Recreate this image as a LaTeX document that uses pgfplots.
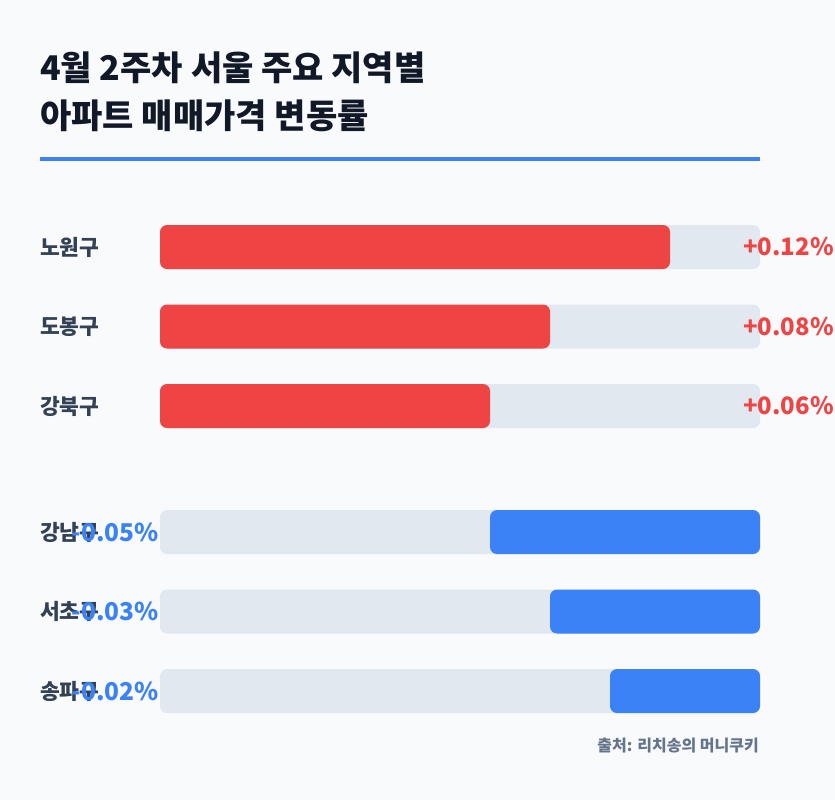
\documentclass[border=0pt]{standalone}
\usepackage{pgfplots}
\pgfplotsset{compat=1.18}
\usepackage{fontspec}
\setmainfont{Noto Sans CJK KR}
\definecolor{bg}{HTML}{F8FAFC}
\definecolor{ink}{HTML}{111827}
\definecolor{lab}{HTML}{334155}
\definecolor{track}{HTML}{E2E8F0}
\definecolor{myred}{HTML}{EF4444}
\definecolor{myblue}{HTML}{3B82F6}
\definecolor{src}{HTML}{64748B}
\begin{document}
\begin{tikzpicture}[x=1pt,y=-1pt]
\path[use as bounding box] (0,0) rectangle (835,800);
\fill[bg] (0,0) rectangle (835,800);
\pgfplotsset{barsax/.style={scale only axis, width=835pt, height=800pt,
  xmin=-26.6667, xmax=112.5, ymin=0, ymax=800, y dir=reverse,
  hide axis, clip=false, at={(0,0)}, anchor=north west}}
% bar lengths in percent of the grey track (as drawn)
\begin{axis}[barsax, xbar, bar width=44]
\addplot[draw=none, fill=track, bar shift=0pt, rounded corners=7pt]
  coordinates {(100,247) (100,326.5) (100,406) (100,532) (100,611.5) (100,691)};
\addplot[draw=none, fill=myred, bar shift=0pt, rounded corners=7pt]
  coordinates {(85,247) (65,326.5) (55,406)};
\end{axis}
\begin{axis}[barsax, xbar stacked, bar width=44]
\addplot[draw=none, fill=none, bar shift=0pt]
  coordinates {(55,532) (65,611.5) (75,691)};
\addplot[draw=none, fill=myblue, bar shift=0pt, rounded corners=7pt]
  coordinates {(45,532) (35,611.5) (25,691)};
\end{axis}
% title
\node[anchor=west, inner sep=0, text=ink, font=\bfseries\fontsize{34}{40}\selectfont] at (40,67.5) {4월 2주차 서울 주요 지역별};
\node[anchor=west, inner sep=0, text=ink, font=\bfseries\fontsize{34}{40}\selectfont] at (40,116) {아파트 매매가격 변동률};
\draw[myblue, line width=4pt] (40,159) -- (760,159);
% category labels
\foreach \y/\t in {247/노원구, 326.5/도봉구, 406/강북구, 532/강남구, 611.5/서초구, 691/송파구}
  \node[anchor=west, inner sep=0, text=lab, font=\bfseries\fontsize{21.5}{25}\selectfont] at (40,\y) {\t};
% value labels
\foreach \y/\t in {247/+0.12\%, 326.5/+0.08\%, 406/+0.06\%}
  \node[anchor=west, inner sep=0, text=myred, font=\bfseries\fontsize{24}{28}\selectfont] at (743,\y) {\t};
\foreach \y/\t in {532/-0.05\%, 611.5/-0.03\%, 691/-0.02\%}
  \node[anchor=east, inner sep=0, text=myblue, font=\bfseries\fontsize{24.5}{28}\selectfont] at (159,\y) {\t};
\node[anchor=east, inner sep=0, text=src, font=\bfseries\fontsize{16}{19}\selectfont] at (759,746) {출처: 리치송의 머니쿠키};
\end{tikzpicture}
\end{document}
